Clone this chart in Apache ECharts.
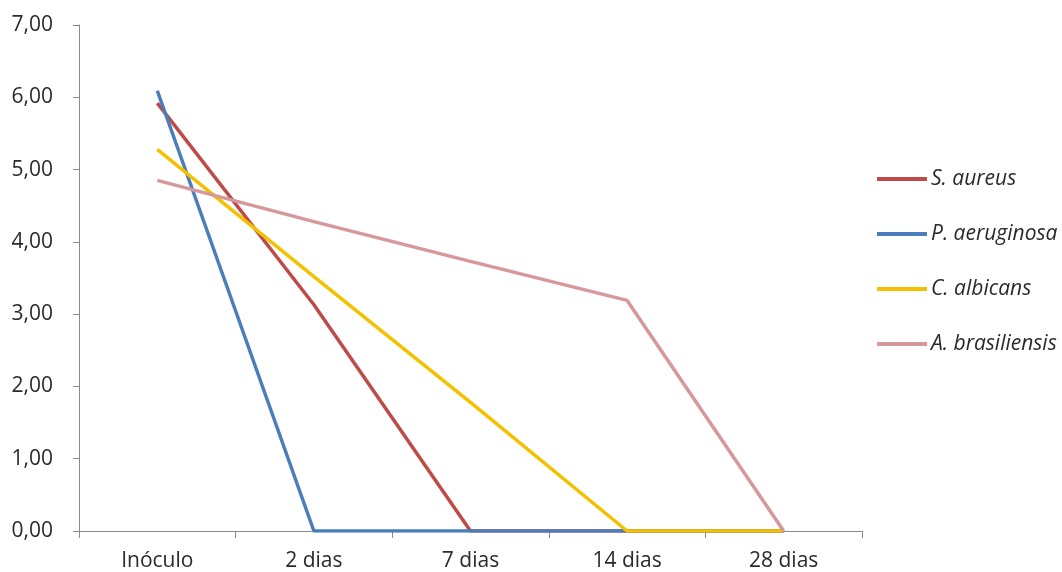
<!DOCTYPE html>
<html>
<head>
<meta charset="utf-8">
<script src="https://cdn.jsdelivr.net/npm/echarts@6/dist/echarts.min.js"></script>
<style>
  html, body { margin: 0; padding: 0; background: #fff; }
  #chart { width: 1062px; height: 572px; }
</style>
</head>
<body>
<div id="chart"></div>
<script>
// Sampling times
var categories = ['Inóculo', '2 dias', '7 dias', '14 dias', '28 dias'];

// Log reduction values per microorganism
var sAureus = [5.92, 3.13, 0, 0, 0];
var pAeruginosa = [6.09, 0, 0, 0, 0];
var cAlbicans = [5.28, 3.52, 1.78, 0, 0];
var aBrasiliensis = [4.85, 4.28, 3.73, 3.19, 0];

var seriesNames = ['S. aureus', 'P. aeruginosa', 'C. albicans', 'A. brasiliensis'];
var seriesColors = ['#BE4B48', '#4A7EBB', '#F5C000', '#D6989B'];
var seriesValues = [sAureus, pAeruginosa, cAlbicans, aBrasiliensis];

var axisColor = '#898989';
var fontFamily = '"Open Sans", "DejaVu Sans", sans-serif';

var chart = echarts.init(document.getElementById('chart'), null, { renderer: 'canvas' });

chart.setOption({
  animation: false,
  backgroundColor: '#ffffff',
  grid: { left: 79, right: 200, top: 25, bottom: 41, containLabel: false },
  legend: {
    orient: 'vertical',
    left: 872,
    top: 162,
    itemWidth: 50,
    itemHeight: 4,
    itemGap: 31,
    icon: 'rect',
    data: seriesNames,
    textStyle: {
      fontFamily: fontFamily,
      fontStyle: 'italic',
      fontSize: 21,
      lineHeight: 24,
      color: '#2a2a2a',
      padding: [0, 0, 0, -1]
    }
  },
  xAxis: {
    type: 'category',
    data: categories,
    boundaryGap: true,
    axisLine: { lineStyle: { color: axisColor, width: 1 } },
    axisTick: { show: true, length: 7, alignWithLabel: false, lineStyle: { color: axisColor } },
    axisLabel: { margin: 20, fontFamily: fontFamily, fontSize: 21, color: '#2a2a2a' },
    splitLine: { show: false }
  },
  yAxis: {
    type: 'value',
    min: 0,
    max: 7,
    interval: 1,
    axisLine: { show: true, lineStyle: { color: axisColor, width: 1 } },
    axisTick: { show: true, length: 6, lineStyle: { color: axisColor } },
    axisLabel: {
      margin: 26,
      fontFamily: fontFamily,
      fontSize: 21,
      color: '#2a2a2a',
      formatter: function (v) { return v.toFixed(2).replace('.', ','); }
    },
    splitLine: { show: false }
  },
  series: seriesNames.map(function (name, i) {
    return {
      name: name,
      type: 'line',
      data: seriesValues[i],
      symbol: 'none',
      smooth: false,
      itemStyle: { color: seriesColors[i] },
      lineStyle: { color: seriesColors[i], width: 3.5 }
    };
  })
});
</script>
</body>
</html>
